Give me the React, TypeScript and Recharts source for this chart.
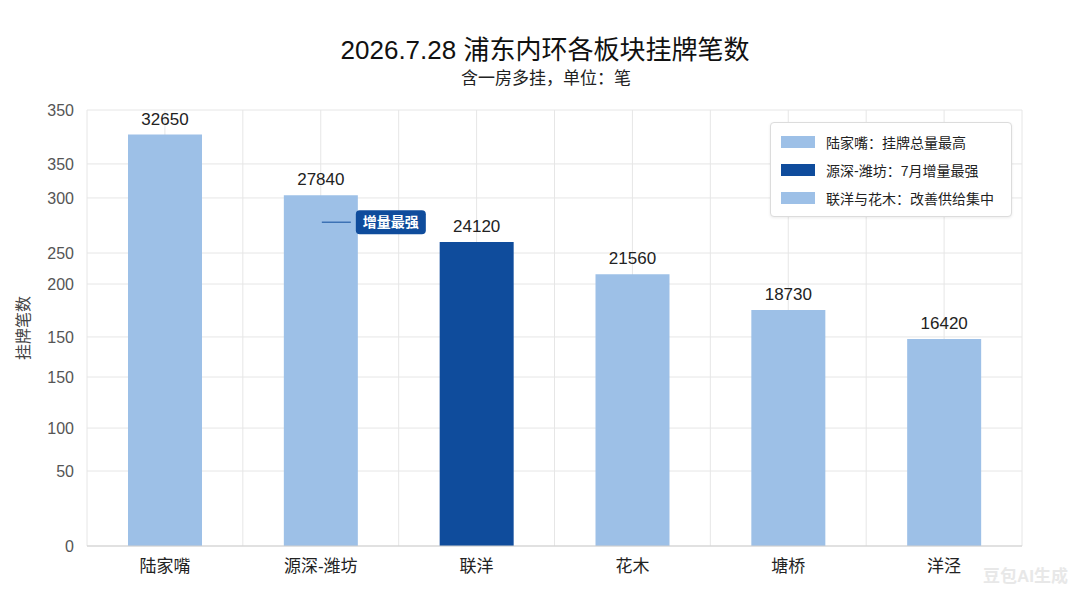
import { BarChart, Bar, XAxis, YAxis, CartesianGrid, Cell, LabelList } from "recharts";

const districts = ["陆家嘴", "源深-潍坊", "联洋", "花木", "塘桥", "洋泾"];
const listings = [32650, 27840, 24120, 21560, 18730, 16420];
const highlight = [false, false, true, false, false, false];
const notes = ["", "增量最强", "", "", "", ""];

const yTickValues = [0, 5950, 9360, 13410, 16590, 20790, 23250, 27620, 30320, 34600];
const yTickLabels = ["0", "50", "100", "150", "150", "200", "250", "300", "350", "350"];

const legendLabels = ["陆家嘴：挂牌总量最高", "源深-潍坊：7月增量最强", "联洋与花木：改善供给集中"];
const legendColors = ["#9dc0e7", "#0f4c9c", "#9dc0e7"];

const LIGHT = "#9dc0e7";
const DARK = "#0f4c9c";
const FONT = "'Liberation Sans', 'Noto Sans CJK SC', sans-serif";

const data = districts.map((name, i) => ({
  name,
  value: listings[i],
  hot: highlight[i],
  note: notes[i],
}));

function NoteLabel(props: any) {
  const { x, y, width, index } = props;
  const note = notes[index];
  if (!note) return null;
  const cx = x + width / 2;
  const ly = y + 27;
  return (
    <g>
      <line x1={cx + 1} y1={ly} x2={cx + 30} y2={ly} stroke={DARK} strokeWidth={1} />
      <rect x={cx + 35} y={ly - 12} width={70} height={24} rx={4} fill={DARK} />
      <text x={cx + 70} y={ly + 5} textAnchor="middle" fill="#fff" fontSize={14} fontWeight="bold" fontFamily={FONT}>
        {note}
      </text>
    </g>
  );
}

function LegendBox() {
  return (
    <div
      style={{
        position: "absolute",
        left: 770,
        top: 122,
        width: 240,
        padding: "5px 0 4px 0",
        border: "1px solid #dcdcdc",
        borderRadius: 4,
        background: "#fff",
        boxShadow: "0 1px 3px rgba(0,0,0,0.08)",
        fontSize: 14,
        color: "#222",
      }}
    >
      {legendLabels.map((t, i) => (
        <div key={t} style={{ display: "flex", alignItems: "center", height: 28, paddingLeft: 10 }}>
          <span style={{ display: "inline-block", width: 34, height: 12, background: legendColors[i], marginRight: 11 }} />
          <span>{t}</span>
        </div>
      ))}
    </div>
  );
}

export default function App() {
  return (
    <div style={{ position: "absolute", left: 0, top: 0, width: 1080, height: 607, background: "#fff", fontFamily: FONT }}>
      <div style={{ position: "absolute", top: 29, left: 0, width: 1090, textAlign: "center", fontSize: 26, color: "#111" }}>
        2026.7.28 浦东内环各板块挂牌笔数
      </div>
      <div style={{ position: "absolute", top: 64, left: 0, width: 1092, textAlign: "center", fontSize: 17, color: "#222" }}>
        含一房多挂，单位：笔
      </div>
      <div
        style={{
          position: "absolute",
          left: 22,
          top: 328,
          transform: "translate(-50%, -50%) rotate(-90deg)",
          fontSize: 16,
          color: "#444",
          whiteSpace: "nowrap",
        }}
      >
        挂牌笔数
      </div>
      <BarChart width={1080} height={607} data={data} margin={{ top: 110, right: 58, bottom: 21, left: 0 }}>
        <CartesianGrid
          stroke="#e6e6e6"
          verticalCoordinatesGenerator={({ offset }: any) =>
            Array.from({ length: 13 }, (_, i) => offset.left + (offset.width * i) / 12)
          }
        />
        <XAxis
          dataKey="name"
          height={40}
          tickLine={false}
          tickSize={0}
          tickMargin={14}
          axisLine={{ stroke: "#cfcfcf" }}
          tick={{ fontSize: 17, fill: "#222", fontFamily: FONT }}
        />
        <YAxis
          width={87}
          domain={[0, 34600]}
          ticks={yTickValues}
          interval={0}
          tickFormatter={(_v: number, i: number) => yTickLabels[i]}
          tickLine={false}
          axisLine={false}
          tickSize={0}
          tickMargin={13}
          tick={{ fontSize: 16, fill: "#555", fontFamily: FONT }}
        />
        <Bar dataKey="value" barSize={74} isAnimationActive={false}>
          {data.map((d) => (
            <Cell key={d.name} fill={d.hot ? DARK : LIGHT} />
          ))}
          <LabelList dataKey="value" position="top" offset={10} fill="#222" fontSize={17} fontFamily={FONT} />
          <LabelList dataKey="note" content={NoteLabel} />
        </Bar>
      </BarChart>
      <LegendBox />
      <div style={{ position: "absolute", right: 12, bottom: 20, fontSize: 17, color: "#e8e8e8", fontWeight: "bold" }}>
        豆包AI生成
      </div>
    </div>
  );
}
